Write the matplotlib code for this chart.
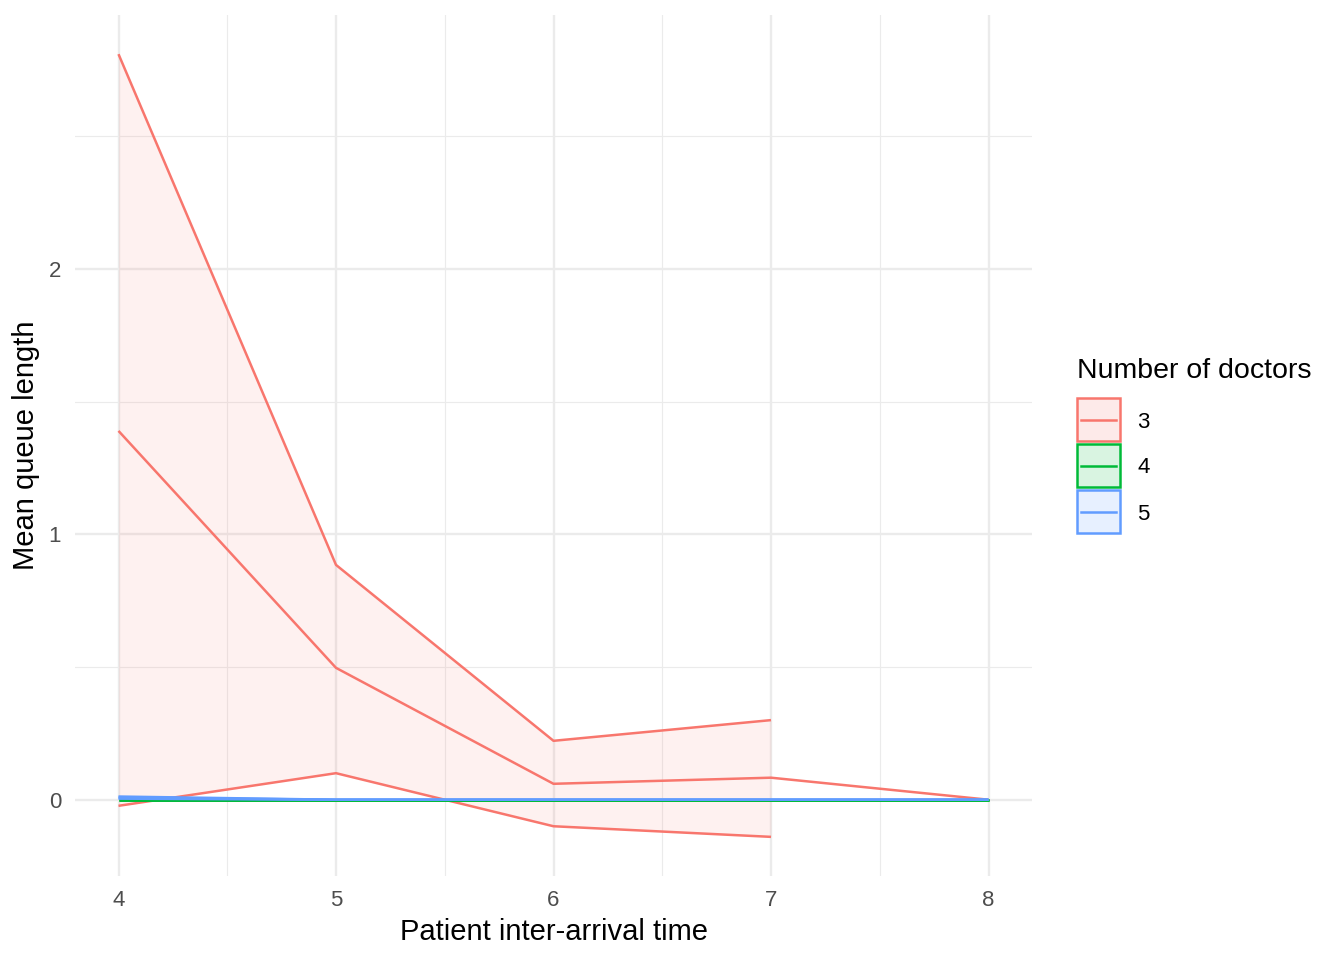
import matplotlib
matplotlib.use("Agg")
import matplotlib.pyplot as plt
from matplotlib.patches import Rectangle
from matplotlib.lines import Line2D
import numpy as np

plt.rcParams['font.family'] = ['Liberation Sans', 'DejaVu Sans']

# Data
iat = [4, 5, 6, 7, 8]
doctors = ["3", "4", "5"]
mean_3 = [1.39, 0.497, 0.06, 0.083, 0.0]
upper_3 = [2.81, 0.885, 0.222, 0.30, np.nan]
lower_3 = [-0.023, 0.10, -0.10, -0.14, np.nan]
mean_4 = [0.0, 0.0, 0.0, 0.0, 0.0]
upper_4 = [0.0, 0.0, 0.0, 0.0, 0.0]
lower_4 = [0.0, 0.0, 0.0, 0.0, 0.0]
mean_5 = [0.008, 0.0, 0.0, 0.0, 0.0]
upper_5 = [0.012, 0.0, 0.0, 0.0, 0.0]
lower_5 = [0.004, 0.0, 0.0, 0.0, 0.0]

colors = ["#F8766D", "#00BA38", "#619CFF"]
means = [mean_3, mean_4, mean_5]
uppers = [upper_3, upper_4, upper_5]
lowers = [lower_3, lower_4, lower_5]

W, H = 1344, 960
fig = plt.figure(figsize=(W / 100, H / 100), dpi=100)
left, right, top, bottom = 75, 1032, 15, 876
ax = fig.add_axes([left / W, 1 - bottom / H, (right - left) / W, (bottom - top) / H])

x = np.array(iat, dtype=float)
for m, u, l, c in zip(means, uppers, lowers, colors):
    u = np.array(u, dtype=float)
    l = np.array(l, dtype=float)
    ax.fill_between(x, l, u, where=~np.isnan(u), color=c, alpha=0.1, linewidth=0, zorder=2)
for m, u, l, c in zip(means, uppers, lowers, colors):
    ax.plot(x, u, color=c, lw=1.8, zorder=3, solid_capstyle='butt')
    ax.plot(x, l, color=c, lw=1.8, zorder=3, solid_capstyle='butt')
    ax.plot(x, m, color=c, lw=1.8, zorder=3, solid_capstyle='butt')

allvals = np.concatenate([np.array(v, dtype=float) for v in uppers + lowers + means])
ymin, ymax = np.nanmin(allvals), np.nanmax(allvals)
yr = ymax - ymin
ax.set_ylim(ymin - 0.05 * yr, ymax + 0.05 * yr)
xr = max(iat) - min(iat)
ax.set_xlim(min(iat) - 0.05 * xr, max(iat) + 0.05 * xr)

ax.set_xticks(iat)
ax.set_xticklabels([str(v) for v in iat])
ax.set_yticks([0, 1, 2])
ax.set_yticklabels(["0", "1", "2"])
ax.set_xticks([4.5, 5.5, 6.5, 7.5], minor=True)
ax.set_yticks([0.5, 1.5, 2.5], minor=True)
ax.grid(which='major', color='#EBEBEB', lw=1.7, zorder=0)
ax.grid(which='minor', color='#EBEBEB', lw=0.85, zorder=0)
ax.set_axisbelow(True)
for s in ax.spines.values():
    s.set_visible(False)
ax.tick_params(which='both', length=0, labelsize=16, labelcolor='#4D4D4D')
ax.tick_params(axis='x', pad=10)
ax.tick_params(axis='y', pad=10)
ax.set_xlabel("Patient inter-arrival time", fontsize=21, labelpad=5)
ax.set_ylabel("Mean queue length", fontsize=21, labelpad=6)

# Legend (drawn manually in figure pixel coords)
fig.text(1077 / W, 1 - 371 / H, "Number of doctors", fontsize=20.5, va='center', ha='left')
key_tops = [398, 444, 490]
for kt, c, lab in zip(key_tops, colors, doctors):
    ks = 43
    rx, ry = 1077 / W, 1 - (kt + ks) / H
    fig.patches.append(Rectangle((rx, ry), ks / W, ks / H, transform=fig.transFigure,
                                 facecolor=c, alpha=0.15, edgecolor='none'))
    fig.patches.append(Rectangle((rx, ry), ks / W, ks / H, transform=fig.transFigure,
                                 facecolor='none', edgecolor=c, lw=1.8))
    cy = 1 - (kt + ks / 2) / H
    fig.lines.append(Line2D([(1077 + 4) / W, (1077 + ks - 4) / W], [cy, cy],
                            transform=fig.transFigure, color=c, lw=1.8))
    fig.text(1137 / W, cy - 2.5 / H, lab, fontsize=16, va='center', ha='left')

fig.savefig("out.png", dpi=100, facecolor='white')
